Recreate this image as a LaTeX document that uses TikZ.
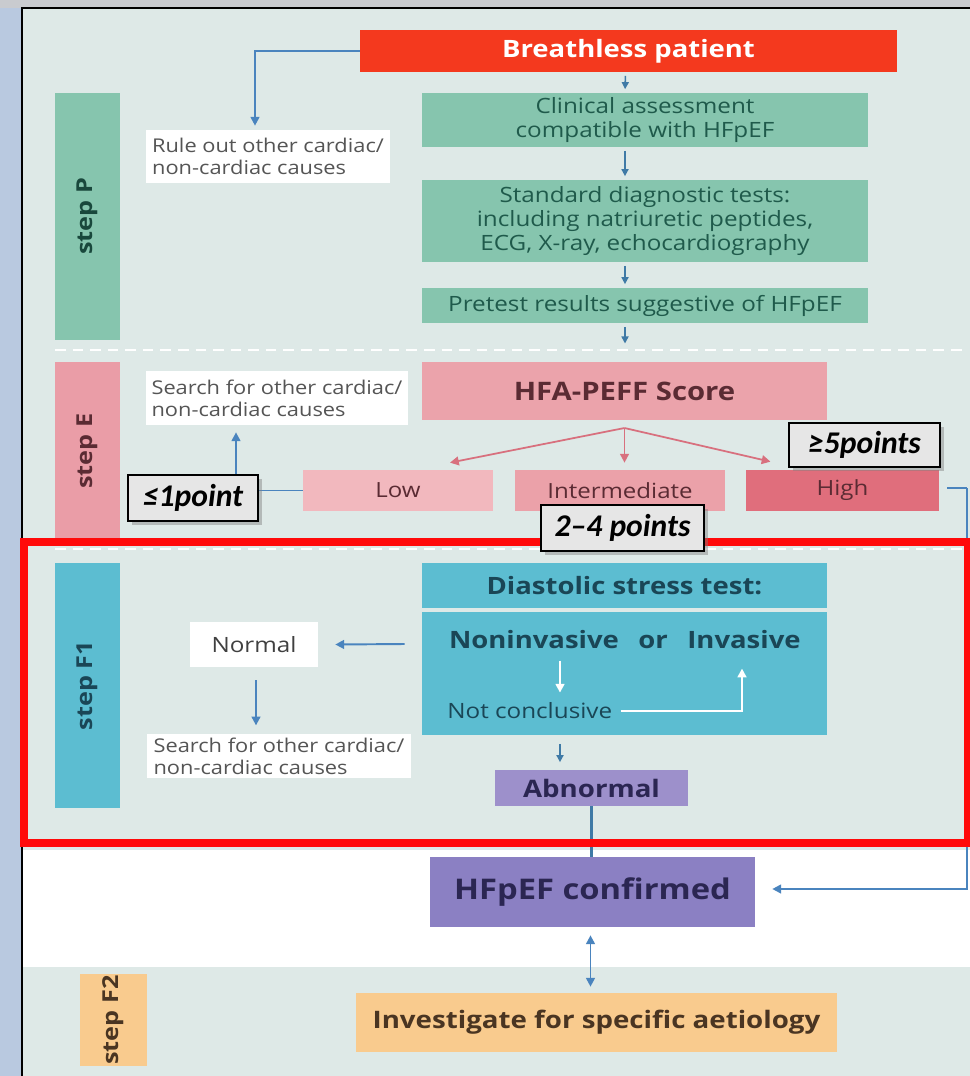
\documentclass[tikz,border=0pt]{standalone}
\usepackage{fontspec}
\setmainfont[FakeStretch=1.15]{Open Sans}
\newfontfamily\calloutfont{Carlito}
\usepackage{tikz}
\usetikzlibrary{arrows.meta,calc,positioning,shadows}
\definecolor{outergray}{HTML}{C9CBCF}
\definecolor{sideblue}{HTML}{B9C9E0}
\definecolor{panelbg}{HTML}{DEE9E7}
\definecolor{alertred}{HTML}{FF0A0A}
\definecolor{patientred}{HTML}{F4391E}
\definecolor{stepgreen}{HTML}{86C5AE}
\definecolor{greentext}{HTML}{1F5A4B}
\definecolor{steppink}{HTML}{EA9DA7}
\definecolor{hfapink}{HTML}{EBA3AB}
\definecolor{lowpink}{HTML}{F2B8BE}
\definecolor{interpink}{HTML}{EBA1A9}
\definecolor{highpink}{HTML}{E06E7C}
\definecolor{pinktext}{HTML}{5A2B33}
\definecolor{arrowpink}{HTML}{D8707E}
\definecolor{stepteal}{HTML}{5CBDD1}
\definecolor{tealtext}{HTML}{1A4656}
\definecolor{abnpurple}{HTML}{9D90CB}
\definecolor{confpurple}{HTML}{8B80C3}
\definecolor{purpletext}{HTML}{2B2652}
\definecolor{steporange}{HTML}{F9CB8E}
\definecolor{orangetext}{HTML}{4A3522}
\definecolor{arrowblue}{HTML}{4A84BE}
\definecolor{smallblue}{HTML}{3F7AA6}
\definecolor{notetext}{HTML}{555555}
\definecolor{calloutgray}{HTML}{E6E6E6}
\tikzstyle{box}        = [shape=rectangle,inner sep=1pt,align=center]
\tikzstyle{greenbox}   = [box,fill=stepgreen,text=greentext,minimum width=8.92cm,font=\fontsize{12}{13.5}\selectfont]
\tikzstyle{notebox}    = [box,fill=white,text=notetext,align=left,font=\fontsize{10.8}{12.5}\selectfont]
\tikzstyle{scorebox}   = [box,text=pinktext,minimum height=0.82cm,font=\fontsize{11.9}{13}\selectfont]
\tikzstyle{steplabel}  = [box,rotate=90,minimum height=1.30cm,font=\bfseries\fontsize{12.5}{14}\selectfont]
\tikzstyle{callout}    = [box,draw=black,line width=0.9pt,fill=calloutgray,font=\calloutfont\bfseries\itshape\fontsize{18}{20}\selectfont,drop shadow={shadow xshift=2pt,shadow yshift=-2pt,opacity=0.45}]
\tikzstyle{bluearrow}  = [draw=arrowblue,line width=1.1pt,-{Triangle[length=5pt,width=5pt]}]
\tikzstyle{smallarrow} = [draw=smallblue,line width=0.9pt,-{Triangle[length=4pt,width=4pt]},shorten <=2pt,shorten >=2pt]
\tikzstyle{pinkarrow}  = [draw=arrowpink,line width=1pt,-{Triangle[length=5pt,width=5pt]}]
\tikzstyle{whitearrow} = [draw=white,line width=1.4pt,-{Triangle[length=5pt,width=5pt]}]
\begin{document}
\begin{tikzpicture}[x=0.02cm,y=-0.02cm]
  \useasboundingbox (0,0) rectangle (970,1076);
  % Backdrop
  \fill[outergray] (0,0) rectangle (970,1076);
  \fill[sideblue] (0,8) rectangle (22,1076);
  \fill[white] (22,8) rectangle (970,1076);
  \fill[panelbg] (22,8) rectangle (970,850);
  \fill[panelbg] (22,967) rectangle (970,1076);
  \draw[black,line width=1.2pt] (22,1076) -- (22,8) -- (970,8);
  \foreach \y in {350,549} \draw[white,line width=1.5pt,dash pattern=on 6pt off 4pt] (55,\y) -- (965,\y);

  % Step bars
  \node[steplabel,fill=stepgreen,text=greentext!80!black,minimum width=4.94cm] (stepP) at (87.5,216.5) {step P};
  \node[steplabel,fill=steppink,text=pinktext,minimum width=3.56cm] (stepE) at (87.5,451) {step E};
  \node[steplabel,fill=stepteal,text=tealtext,minimum width=4.90cm] (stepFone) at (87.5,685.5) {step F1};
  \node[steplabel,fill=steporange,text=orangetext,minimum width=1.80cm,minimum height=1.34cm] (stepFtwo) at (113.5,1020) {step F2};

  % Step P
  \node[box,fill=patientred,text=white,minimum width=10.74cm,minimum height=0.84cm,font=\bfseries\fontsize{13.6}{15}\selectfont] (patient) at (628.5,51) {Breathless patient};
  \node[greenbox,minimum height=1.08cm] (clinical) at (645,120) {Clinical assessment\\compatible with HFpEF};
  \node[greenbox,minimum height=1.64cm] (standard) at (645,221) {Standard diagnostic tests:\\including natriuretic peptides,\\ECG, X-ray, echocardiography};
  \node[greenbox,minimum height=0.70cm] (pretest) at (645,305.5) {Pretest results suggestive of HFpEF};
  \node[notebox,minimum width=4.88cm,minimum height=1.06cm] (ruleout) at (268,156.5) {Rule out other cardiac/\\non-cardiac causes};
  \coordinate (stepEtop) at (625,347);
  \draw[smallarrow] ($(patient.south)+(-3,0)$) -- ($(clinical.north)+(-20,0)$);
  \foreach \a/\b in {clinical/standard,standard/pretest}
    \draw[smallarrow] ($(\a.south)+(-20,0)$) -- ($(\b.north)+(-20,0)$);
  \draw[smallarrow] ($(pretest.south)+(-20,0)$) -- (stepEtop);
  \draw[bluearrow] (patient.west) -| ($(ruleout.north)+(-13,-4)$);

  % Step E
  \node[box,fill=hfapink,text=pinktext,minimum width=8.10cm,minimum height=1.16cm,font=\bfseries\fontsize{14.5}{16}\selectfont] (hfa) at (624.5,391) {HFA-PEFF Score};
  \node[notebox,minimum width=5.24cm,minimum height=1.08cm] (searchE) at (277,398) {Search for other cardiac/\\non-cardiac causes};
  \node[scorebox,fill=lowpink,minimum width=3.80cm] (low) at (398,490.5) {Low};
  \node[scorebox,fill=interpink,minimum width=4.20cm] (inter) at (620,490.5) {Intermediate};
  \node[scorebox,fill=highpink,minimum width=3.86cm] (high) at (842.5,490.5) {High};
  \coordinate (split) at (624.5,428);
  \draw[pinkarrow] (split) -- ($(low.north)+(52,-7)$);
  \draw[pinkarrow] (split) -- ($(inter.north)+(4.5,-7)$);
  \draw[pinkarrow] (split) -- ($(high.north)+(-72,-8)$);
  \draw[bluearrow,-] (low.west) -| ($(searchE.south)+(-41,20)$);
  \draw[bluearrow] ($(searchE.south)+(-41,20)$) -- ($(searchE.south)+(-41,7)$);
  \coordinate (rail) at (967,488);
  \draw[bluearrow,-] ($(high.east)+(8,-2.5)$) -- (rail);

  % Step F1
  \node[box,fill=stepteal,text=tealtext,minimum width=8.10cm,minimum height=0.90cm,font=\bfseries\fontsize{13.6}{15}\selectfont] (dsthead) at (624.5,585.5) {Diastolic stress test:};
  \node[box,fill=stepteal,minimum width=8.10cm,minimum height=2.46cm] (dstbody) at (624.5,673.5) {};
  \begin{scope}[every node/.style={box,inner sep=0pt,text=tealtext,font=\bfseries\fontsize{13.6}{15}\selectfont,anchor=base}]
    \node (noninv) at (534,648) {Noninvasive};
    \node (orword) at (653,648) {or};
    \node (inv) at (744,648) {Invasive};
  \end{scope}
  \node[box,inner sep=0pt,text=tealtext,anchor=base west,font=\fontsize{12}{13}\selectfont] (notconc) at (447,718) {Not conclusive};
  \draw[whitearrow] ($(noninv.south)+(26,12)$) -- ($(noninv.south)+(26,44)$);
  \draw[whitearrow] ($(notconc.east)+(8,1)$) -| ($(inv.south)+(-2,20)$);
  \node[box,fill=white,text=black!75,minimum width=2.56cm,minimum height=0.90cm,font=\fontsize{12}{14}\selectfont] (normal) at (254,644.5) {Normal};
  \node[notebox,minimum width=5.28cm,minimum height=0.88cm] (searchF) at (279,756) {Search for other cardiac/\\non-cardiac causes};
  \node[box,fill=abnpurple,text=purpletext,minimum width=3.86cm,minimum height=0.72cm,font=\bfseries\fontsize{13.7}{15}\selectfont] (abnormal) at (591.5,788) {Abnormal};
  \draw[bluearrow] ($(dstbody.west)+(-17,-29.5)$) -- ($(normal.east)+(17,0)$);
  \draw[bluearrow] ($(normal.south)+(2,13)$) -- ($(normal.south)+(2,58)$);
  \draw[smallarrow] ($(dstbody.south)+(-64.5,5)$) -- ($(abnormal.north)+(-31.5,-4)$);

  % Confirmation and step F2
  \node[box,fill=confpurple,text=purpletext,minimum width=6.50cm,minimum height=1.40cm,font=\bfseries\fontsize{16.2}{18}\selectfont] (confirmed) at (592.5,892) {HFpEF confirmed};
  \node[box,fill=steporange,text=orangetext,minimum width=9.62cm,minimum height=1.18cm,font=\bfseries\fontsize{13.7}{15}\selectfont] (investigate) at (596.5,1022.5) {Investigate for specific aetiology};
  \draw[smallblue,line width=1.6pt] (abnormal.south) -- (abnormal.south |- confirmed.north);
  \draw[bluearrow] (rail) |- ($(confirmed.east)+(17,-3)$);
  \draw[bluearrow,{Triangle[length=5pt,width=5pt]}-{Triangle[length=5pt,width=5pt]}] ($(confirmed.south)+(-2,8)$) -- ($(confirmed.south |- investigate.north)+(-2,-6)$);

  % Highlight frame
  \draw[alertred,line width=4.5pt] (24,542) rectangle (968,843);

  % Score callouts
  \node[callout,minimum width=2.60cm,minimum height=0.92cm] (lowpts) at (193,498) {≤1point};
  \node[callout,minimum width=3.02cm,minimum height=0.88cm] (highpts) at (864.5,445) {≥5points};
  \node[callout,minimum width=3.26cm,minimum height=0.92cm] (interpts) at (622.5,528) {2–4 points};
\end{tikzpicture}
\end{document}
